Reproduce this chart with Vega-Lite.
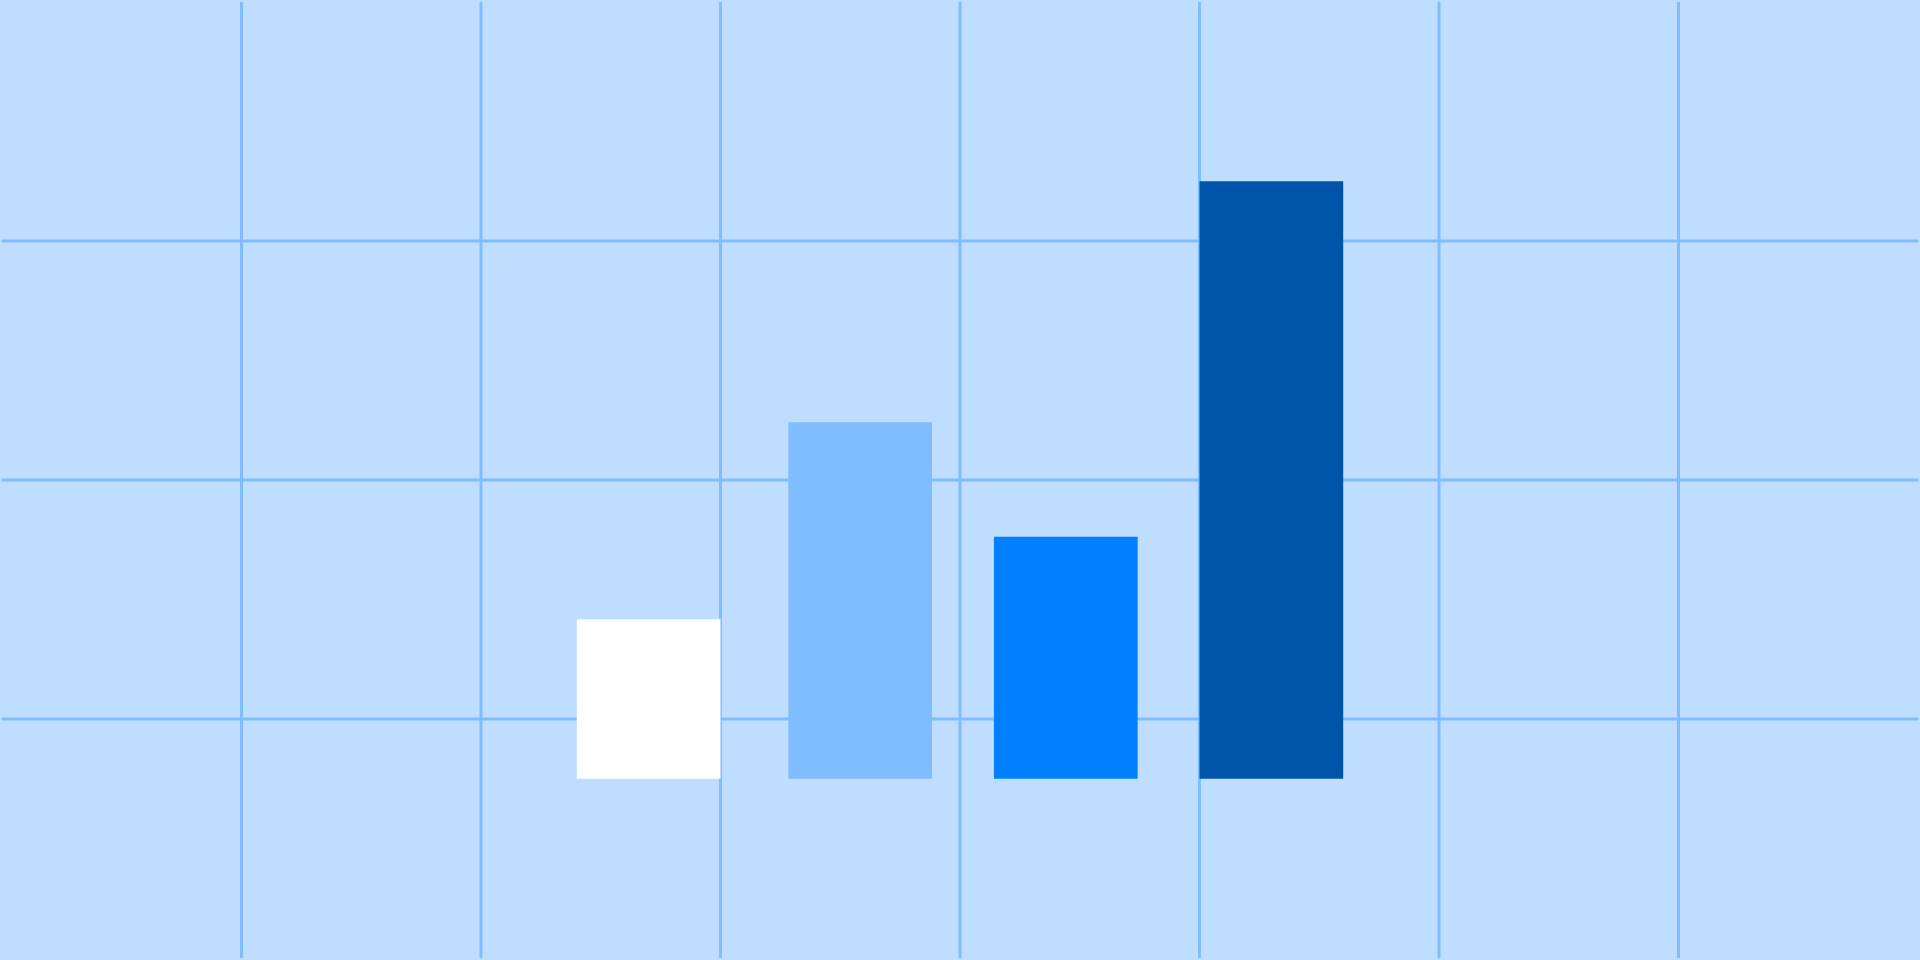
{
  "$schema": "https://vega.github.io/schema/vega-lite/v6.json",
  "width": 1920,
  "height": 960,
  "padding": 0,
  "autosize": {"type": "fit", "contains": "padding"},
  "background": "#BFDDFF",
  "config": {"view": {"stroke": null}},
  "datasets": {
    "vgrid": [{"v": 1}, {"v": 2}, {"v": 3}, {"v": 4}, {"v": 5}, {"v": 6}, {"v": 7}],
    "hgrid": [{"h": 0.25}, {"h": 1.25}, {"h": 2.25}],
    "bars": [
      {"category": "A", "start": 2.4, "end": 3.0, "value": 0.667},
      {"category": "B", "start": 3.2833, "end": 3.8833, "value": 1.492},
      {"category": "C", "start": 4.1417, "end": 4.7417, "value": 1.0125},
      {"category": "D", "start": 5.0, "end": 5.6, "value": 2.5}
    ]
  },
  "layer": [
    {
      "data": {"name": "vgrid"},
      "mark": {"type": "rule", "color": "#80BDFF", "strokeWidth": 3},
      "encoding": {
        "x": {"field": "v", "type": "quantitative", "scale": {"domain": [0, 8], "nice": false, "zero": false}, "axis": null}
      }
    },
    {
      "data": {"name": "hgrid"},
      "mark": {"type": "rule", "color": "#80BDFF", "strokeWidth": 3},
      "encoding": {
        "y": {"field": "h", "type": "quantitative", "scale": {"domain": [-0.75, 3.25], "nice": false, "zero": false}, "axis": null}
      }
    },
    {
      "data": {"name": "bars"},
      "mark": {"type": "bar"},
      "encoding": {
        "x": {"field": "start", "type": "quantitative", "scale": {"domain": [0, 8], "nice": false, "zero": false}, "axis": null},
        "x2": {"field": "end"},
        "y": {"field": "value", "type": "quantitative", "scale": {"domain": [-0.75, 3.25], "nice": false, "zero": false}, "axis": null},
        "y2": {"datum": 0},
        "color": {
          "field": "category",
          "type": "nominal",
          "scale": {"domain": ["A", "B", "C", "D"], "range": ["#FFFFFF", "#80BDFF", "#0080FF", "#0055AA"]},
          "legend": null
        }
      }
    }
  ]
}
